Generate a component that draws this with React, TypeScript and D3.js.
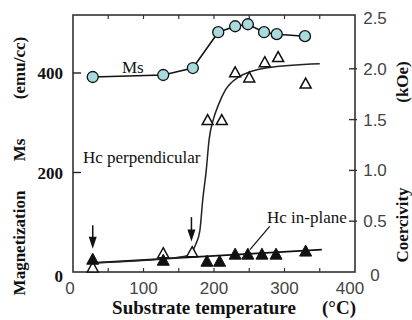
import React from "react";
import * as d3 from "d3";

// ---- data ----
const msTemp = [28, 128, 170, 206, 230, 248, 271, 289, 329];
const msValues = [392, 396, 410, 482, 494, 498, 482, 478, 474];

const hcPerpTemp = [28, 128, 169, 191, 211, 230, 250, 272, 291, 330];
const hcPerpValues = [0.04, 0.18, 0.19, 1.49, 1.49, 1.96, 1.91, 2.06, 2.11, 1.85];

const hcInTemp = [28, 128, 190, 208, 230, 248, 268, 288, 330];
const hcInValues = [0.12, 0.11, 0.1, 0.1, 0.17, 0.17, 0.17, 0.17, 0.2];

// fitted guide curves
const perpFitTemp = [28, 128, 162, 174, 180, 184, 189, 193, 199, 206, 216, 233, 275, 350];
const perpFitValues = [0.09, 0.13, 0.16, 0.27, 0.41, 0.71, 1.0, 1.3, 1.5, 1.64, 1.79, 1.91, 2.01, 2.05];
const inFitTemp = [28, 353];
const inFitValues = [0.09, 0.22];

const arrowTemps = [28, 168];
const arrowTops = [0.46, 0.54];
const arrowTips = [0.23, 0.3];

const xTicksLabeled = [0, 100, 200, 300, 400];
const xTicksMinor = [50, 100, 150, 200, 250, 300, 350];
const leftTicks = [0, 200, 400];
const rightTicks = [0, 0.5, 1.0, 1.5, 2.0, 2.5];

const SERIF = "'Liberation Serif', 'Times New Roman', serif";
const SANS = "'Liberation Sans', Arial, Helvetica, sans-serif";

function tri(cx: number, cy: number, w: number, h: number) {
  return `M${cx},${cy - h * 0.6} L${cx + w / 2},${cy + h * 0.4} L${cx - w / 2},${cy + h * 0.4} Z`;
}

export default function App() {
  const W = 412, H = 320;
  const left = 73, right = 355, top = 15, bottom = 272;
  const x = d3.scaleLinear().domain([0, 400]).range([left, right]);
  const yL = d3.scaleLinear().domain([0, 400]).range([bottom, 73]);
  const yR = d3.scaleLinear().domain([0, 2.5]).range([bottom, 18]);

  const msLine = d3.line<number>().x((_, i) => x(msTemp[i])).y((d) => yL(d));
  const perpLine = d3
    .line<number>()
    .x((_, i) => x(perpFitTemp[i]))
    .y((d) => yR(d))
    .curve(d3.curveMonotoneX);
  const inLine = d3.line<number>().x((_, i) => x(inFitTemp[i])).y((d) => yR(d));

  return (
    <svg width={W} height={H} style={{ position: "absolute", left: 0, top: 0, background: "#fff" }}>
      {/* frame */}
      <rect x={left} y={top} width={right - left} height={bottom - top} fill="none" stroke="#333" strokeWidth={1.6} />
      {/* top and bottom minor ticks (inward) */}
      {xTicksMinor.map((t) => (
        <g key={"tx" + t}>
          <line x1={x(t)} x2={x(t)} y1={top} y2={top + 4} stroke="#333" strokeWidth={1.2} />
          <line x1={x(t)} x2={x(t)} y1={bottom} y2={bottom - 4} stroke="#333" strokeWidth={1.2} />
        </g>
      ))}
      {/* left ticks */}
      {leftTicks.map((t) => (
        <g key={"l" + t}>
          {t > 0 && <line x1={left} x2={left + 8} y1={yL(t)} y2={yL(t)} stroke="#222" strokeWidth={1.4} />}
          <text
            x={63}
            y={t === 0 ? yL(t) + 10 : yL(t) + 6}
            textAnchor="end"
            fontFamily={SERIF}
            fontWeight="bold"
            fontSize={17}
            fill="#111"
          >
            {t}
          </text>
        </g>
      ))}
      {/* right ticks */}
      {rightTicks.map((t) => (
        <g key={"r" + t}>
          {t > 0 && t < 2.5 && (
            <line x1={right - 6} x2={right + 2} y1={yR(t)} y2={yR(t)} stroke="#333" strokeWidth={1.4} />
          )}
          <text
            x={375}
            y={t === 0 ? yR(t) + 9 : yR(t) + 6}
            textAnchor="middle"
            fontFamily={SANS}
            fontSize={17}
            fill="#444"
          >
            {t === 0 ? "0" : t.toFixed(1)}
          </text>
        </g>
      ))}
      {/* bottom tick labels */}
      {xTicksLabeled.map((t) => (
        <text
          key={"bx" + t}
          x={x(t) - (t === 0 ? 3 : t === 400 ? 5 : 0)}
          y={294}
          textAnchor="middle"
          fontFamily={SANS}
          fontSize={17}
          fill="#444"
        >
          {t}
        </text>
      ))}

      {/* axis titles */}
      <text x={25} y={243} transform="rotate(-90 25 243)" textAnchor="middle" fontFamily={SERIF} fontWeight="bold" fontSize={17} fill="#111">
        Magnetization
      </text>
      <text x={25} y={150} transform="rotate(-90 25 150)" textAnchor="middle" fontFamily={SERIF} fontWeight="bold" fontSize={17} fill="#111">
        Ms
      </text>
      <text x={25} y={68} transform="rotate(-90 25 68)" textAnchor="middle" fontFamily={SERIF} fontWeight="bold" fontSize={17} fill="#111">
        (emu/cc)
      </text>
      <text x={408} y={225} transform="rotate(-90 408 225)" textAnchor="middle" fontFamily={SERIF} fontWeight="bold" fontSize={17} fill="#111">
        Coercivity
      </text>
      <text x={408} y={82} transform="rotate(-90 408 82)" textAnchor="middle" fontFamily={SERIF} fontWeight="bold" fontSize={17} fill="#111">
        (kOe)
      </text>
      <text x={204} y={314} textAnchor="middle" fontFamily={SERIF} fontWeight="bold" fontSize={19} fill="#111">
        Substrate temperature
      </text>
      <text x={356} y={314} textAnchor="end" fontFamily={SERIF} fontWeight="bold" fontSize={19} fill="#111">
        (°C)
      </text>

      {/* fitted curves */}
      <path d={inLine(inFitValues) || ""} fill="none" stroke="#111" strokeWidth={1.8} />
      <path d={perpLine(perpFitValues) || ""} fill="none" stroke="#222" strokeWidth={1.5} />

      {/* Ms line and circles */}
      <path d={msLine(msValues) || ""} fill="none" stroke="#111" strokeWidth={1.5} />
      {msValues.map((v, i) => (
        <circle key={"ms" + i} cx={x(msTemp[i])} cy={yL(v)} r={5.5} fill="#a8dade" stroke="#111" strokeWidth={1.3} />
      ))}

      {/* Hc perpendicular (open triangles) */}
      {hcPerpValues.map((v, i) => (
        <path key={"hp" + i} d={tri(x(hcPerpTemp[i]), yR(v), 11, 10)} fill="#fff" stroke="#111" strokeWidth={1.5} />
      ))}
      {/* Hc in-plane (filled triangles) */}
      {hcInValues.map((v, i) => (
        <path key={"hi" + i} d={tri(x(hcInTemp[i]), yR(v), 12, 11)} fill="#111" stroke="#111" strokeWidth={1} />
      ))}

      {/* arrows */}
      {arrowTemps.map((t, i) => {
        const cx = x(t);
        const y1 = yR(arrowTops[i]);
        const y2 = yR(arrowTips[i]);
        return (
          <g key={"ar" + i}>
            <line x1={cx} x2={cx} y1={y1} y2={y2 - 8} stroke="#111" strokeWidth={1.5} />
            <path d={`M${cx - 4},${y2 - 12} L${cx + 4},${y2 - 12} L${cx},${y2} Z`} fill="#111" />
          </g>
        );
      })}

      {/* annotation pointer */}
      <line x1={x(251)} y1={yR(0.22)} x2={x(279)} y2={yR(0.45)} stroke="#111" strokeWidth={1.2} />

      {/* labels */}
      <text x={122} y={73} fontFamily={SERIF} fontSize={17} fill="#111">
        Ms
      </text>
      <text x={83} y={163} fontFamily={SERIF} fontSize={17} fill="#111">
        Hc perpendicular
      </text>
      <text x={267} y={223} fontFamily={SERIF} fontSize={17} fill="#111">
        Hc in-plane
      </text>
    </svg>
  );
}
